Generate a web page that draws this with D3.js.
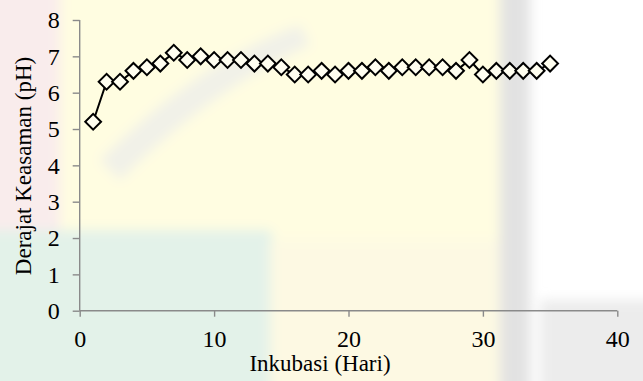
<!DOCTYPE html>
<html>
<head>
<meta charset="utf-8">
<script src="https://cdn.jsdelivr.net/npm/d3@7/dist/d3.min.js"></script>
<style>
  html, body { margin: 0; padding: 0; background: #fff; }
  svg { display: block; }
  text { font-family: "Liberation Serif", "Times New Roman", serif; fill: #000; }
</style>
</head>
<body>
<svg id="chart" width="643" height="381"></svg>
<script>
// pH readings over the incubation period
const days = [1,2,3,4,5,6,7,8,9,10,11,12,13,14,15,16,17,18,19,20,21,22,23,24,25,26,27,28,29,30,31,32,33,34,35];
const phValues = [5.2,6.3,6.3,6.6,6.7,6.8,7.1,6.9,7.0,6.9,6.9,6.9,6.8,6.8,6.7,6.5,6.5,6.6,6.5,6.6,6.6,6.7,6.6,6.7,6.7,6.7,6.7,6.6,6.9,6.5,6.6,6.6,6.6,6.6,6.8];
const xTicks = [0,10,20,30,40];
const yTicks = [0,1,2,3,4,5,6,7,8];
const xTitle = "Inkubasi (Hari)";
const yTitle = "Derajat Keasaman (pH)";

const svg = d3.select("#chart");
const W = 643, H = 381;
const plot = { left: 79.7, right: 617.3, top: 20, bottom: 310.7 };

// soft background wash
const defs = svg.append("defs");
defs.append("filter").attr("id", "soft")
  .attr("x", "-20%").attr("y", "-20%").attr("width", "140%").attr("height", "140%")
  .append("feGaussianBlur").attr("stdDeviation", 6);

const bg = svg.append("g");
bg.append("rect").attr("width", W).attr("height", H).attr("fill", "#ffffff");
const wash = bg.append("g").attr("filter", "url(#soft)");
wash.append("rect").attr("x", 40).attr("y", -20).attr("width", 480).attr("height", 290).attr("fill", "#fffde1");
wash.append("rect").attr("x", -20).attr("y", -20).attr("width", 80).attr("height", 260).attr("fill", "#f9ecec");
wash.append("path").attr("d", "M-20,230 L270,230 Q300,300 280,400 L-20,400 Z").attr("fill", "#e3f2e9");
wash.append("path").attr("d", "M270,240 L520,240 L520,400 L270,400 Z").attr("fill", "#fdf9e3");
wash.append("path").attr("d", "M100,160 Q200,60 300,25 L310,45 Q210,90 120,180 Z").attr("fill", "#ebebeb").attr("opacity", 0.7);
wash.append("rect").attr("x", 500).attr("y", -20).attr("width", 30).attr("height", 420).attr("fill", "#e2e2e2");
wash.append("rect").attr("x", 540).attr("y", 300).attr("width", 120).attr("height", 100).attr("fill", "#ececec");

const x = d3.scaleLinear().domain([0, 40]).range([plot.left, plot.right]);
const y = d3.scaleLinear().domain([0, 8]).range([plot.bottom, plot.top]);

const axisColor = "#8a8a8a";

// y axis
const gy = svg.append("g").attr("transform", `translate(${plot.left},0)`)
  .call(d3.axisLeft(y).tickValues(yTicks).tickSize(7).tickPadding(13).tickFormat(d3.format("d")));
gy.select(".domain").attr("stroke", axisColor).attr("stroke-width", 1.4).attr("d", `M0,${plot.top}V${plot.bottom}`);
gy.selectAll(".tick line").attr("stroke", axisColor).attr("stroke-width", 1.4);
gy.selectAll(".tick text").attr("font-size", 24);

// x axis
const gx = svg.append("g").attr("transform", `translate(0,${plot.bottom})`)
  .call(d3.axisBottom(x).tickValues(xTicks).tickSize(6).tickPadding(13).tickFormat(d3.format("d")));
gx.select(".domain").attr("stroke", axisColor).attr("stroke-width", 1.4).attr("d", `M${plot.left},0H${plot.right}`);
gx.selectAll(".tick line").attr("stroke", axisColor).attr("stroke-width", 1.4);
gx.selectAll(".tick text").attr("font-size", 24);

// axis titles
svg.append("text").attr("x", 320).attr("y", 371)
  .attr("text-anchor", "middle").attr("font-size", 23).text(xTitle);
svg.append("text").attr("transform", `translate(31,166) rotate(-90)`)
  .attr("text-anchor", "middle").attr("font-size", 23).text(yTitle);

// series line and diamond markers
const pts = days.map((d, i) => [d, phValues[i]]);
svg.append("path").datum(pts)
  .attr("fill", "none").attr("stroke", "#000").attr("stroke-width", 2)
  .attr("d", d3.line().x(d => x(d[0])).y(d => y(d[1])));

const diamond = d3.symbol().type(d3.symbolSquare).size(125);
svg.append("g").selectAll("path").data(pts).join("path")
  .attr("transform", d => `translate(${x(d[0])},${y(d[1])}) rotate(45)`)
  .attr("d", diamond)
  .attr("fill", "#fffef0").attr("stroke", "#000").attr("stroke-width", 2);
</script>
</body>
</html>
